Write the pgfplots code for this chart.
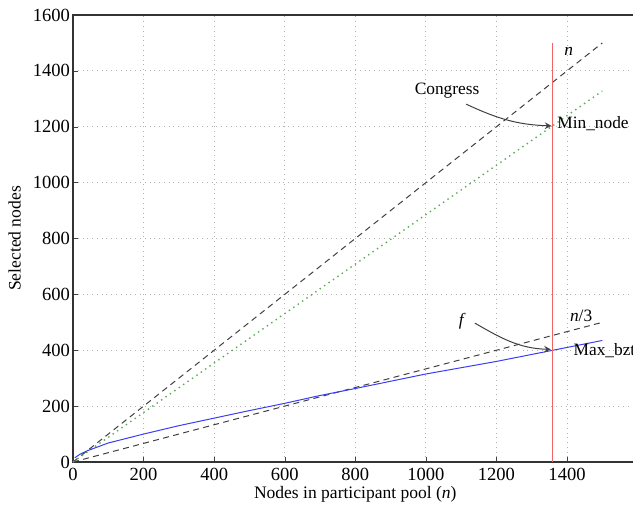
\documentclass[border=0pt]{standalone}
\usepackage{pgfplots}
\pgfplotsset{compat=1.18}
\usepackage{fontspec}
\setmainfont{Liberation Serif}

\definecolor{linegray}{RGB}{64,64,64}
\definecolor{mingreen}{RGB}{90,170,90}
\definecolor{bztblue}{RGB}{60,60,240}
\definecolor{congred}{RGB}{240,100,100}

\begin{document}
\fontsize{8.7}{10}\selectfont
\begin{tikzpicture}
\begin{axis}[
  at={(0,0)}, anchor=south west,
  scale only axis,
  width=282.3bp, height=223.5bp,
  xmin=0, xmax=1600, ymin=0, ymax=1600,
  xtick={0,200,...,1400},
  ytick={0,200,...,1600},
  xtick pos=left, ytick pos=left,
  tick align=inside,
  major tick length=2.5pt,
  grid=major,
  grid style={dotted, gray!60},
  axis line style={gray!40!black, line width=0.6pt},
  tick style={gray!50!black},
  xlabel={Nodes in participant pool (\textit{n})},
  ylabel={Selected nodes},
  xlabel style={yshift=3pt},
  ylabel style={yshift=0pt},
  yticklabel style={xshift=1.5pt},
  /pgf/number format/assume math mode=true,
  /pgf/number format/1000 sep={},
  tick label style={font=\fontsize{9.3}{10}\selectfont},
  label style={font=\fontsize{8.8}{10}\selectfont},
  clip=false,
]
% n
\addplot[linegray, dash pattern=on 3pt off 2.2pt, line width=0.5pt] coordinates {(0,0) (1500,1500)};
% n/3
\addplot[linegray, dash pattern=on 3pt off 2.2pt, line width=0.5pt] coordinates {(0,0) (1500,500)};
% Min_node
\addplot[mingreen, dotted, line width=0.7pt] coordinates {(0,0) (1500,1328)};
% Max_bzt
\addplot[bztblue, line width=0.5pt] coordinates {
  (5,15) (20,28) (40,40) (100,68) (200,100) (300,130) (400,157)
  (500,184) (600,210) (700,238) (800,263) (1000,315) (1200,360)
  (1360,400) (1500,435)};
% Congress
\addplot[congred, line width=0.45pt] coordinates {(1360,0) (1360,1500)};

\node[anchor=center, font=\itshape] at (axis cs:1405,1470) {n};
\node[anchor=center] at (axis cs:1440,522) {\textit{n}/3};
\node[anchor=center] at (axis cs:1060,1328) {Congress};
\node[anchor=center, font=\itshape] at (axis cs:1100,505) {f};
\node[anchor=west, inner sep=1pt] at (axis cs:1366,1210) {Min\_node};
\node[anchor=west, inner sep=1pt] at (axis cs:1412,398) {Max\_bzt};

\draw[->, >=stealth, linegray, line width=0.5pt]
  (axis cs:1114,1281) to[out=-25,in=178] (axis cs:1356,1203);
\draw[->, >=stealth, linegray, line width=0.5pt]
  (axis cs:1139,497) to[out=-30,in=178] (axis cs:1354,403);
\end{axis}
\pgfresetboundingbox
\path[use as bounding box] (-36.5bp,-23bp) rectangle (280bp,231bp);
\end{tikzpicture}
\end{document}
